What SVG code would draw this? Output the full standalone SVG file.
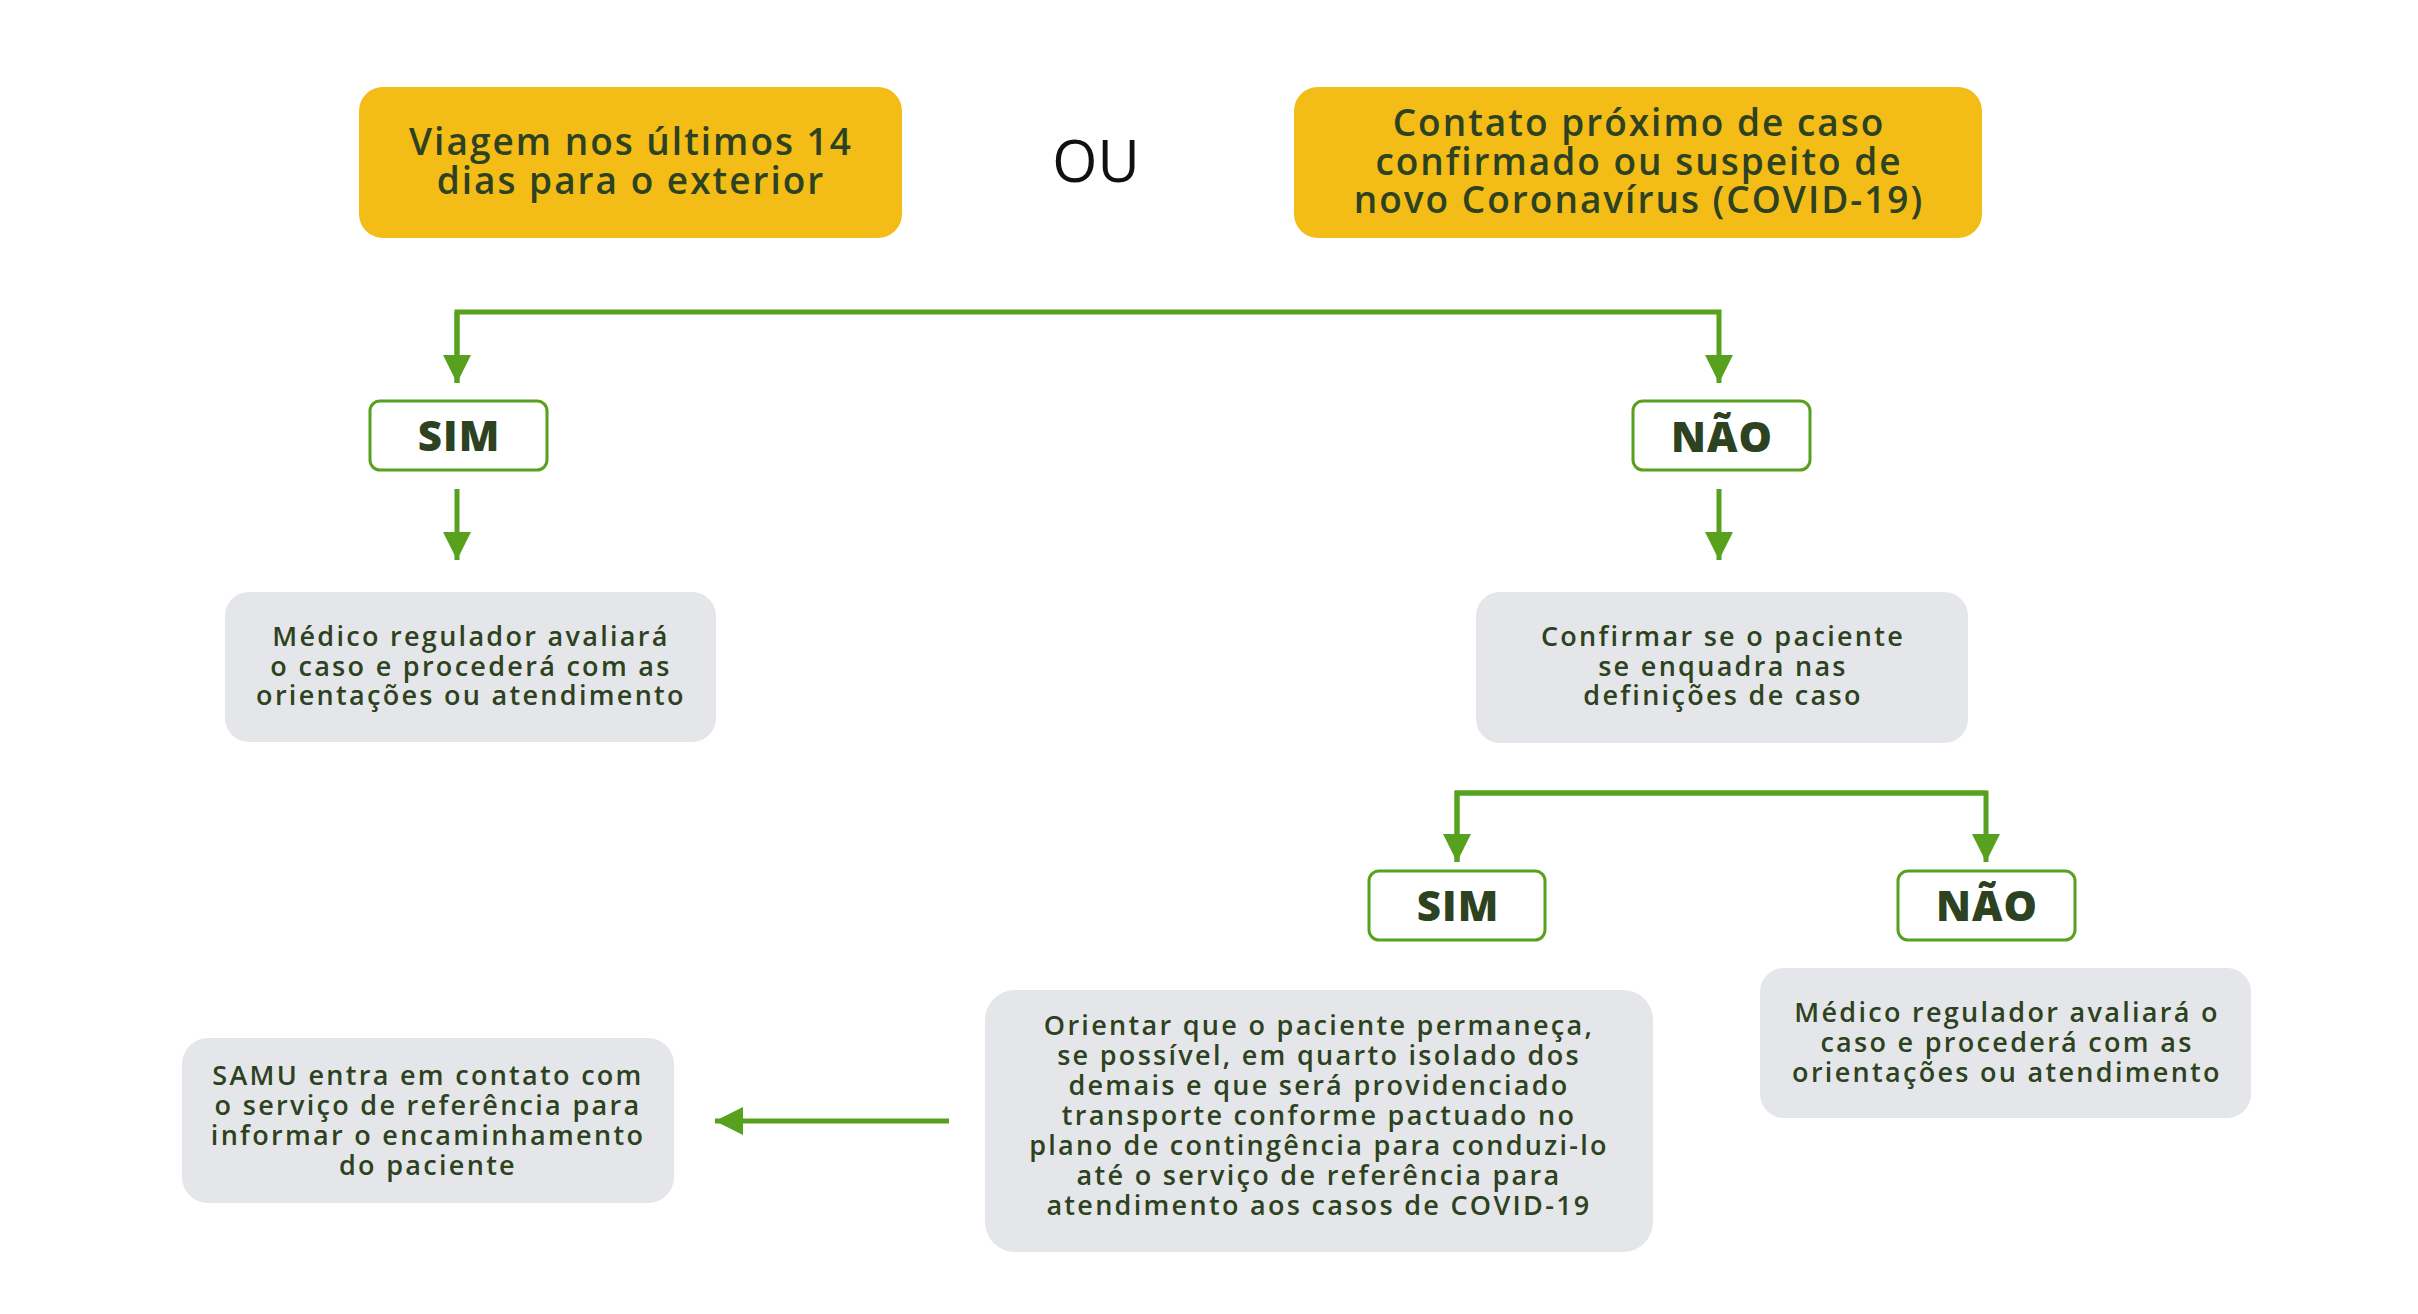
<svg xmlns="http://www.w3.org/2000/svg" width="2418" height="1314" viewBox="0 0 2418 1314">
<defs>
<marker id="ah" viewBox="0 0 28 28" refX="28" refY="14" markerWidth="28" markerHeight="28" markerUnits="userSpaceOnUse" orient="auto">
<path d="M0,0 L28,14 L0,28 Z" fill="#57a11f"/>
</marker>
<style>
.y{fill:#f3bc16}
.g{fill:#e5e6e9}
.d{fill:#fff;stroke:#57a11f;stroke-width:3}
.t{font-family:"Open Sans","Liberation Sans",sans-serif;fill:#2d4220;text-anchor:middle}
.ty{font-size:37px;font-weight:600;letter-spacing:2px}
.tg{font-size:27px;font-weight:600;letter-spacing:2.3px}
.tb{font-size:42px;font-weight:800;letter-spacing:1px}
.c{fill:none;stroke:#57a11f;stroke-width:5}
</style>
</defs>
<rect width="2418" height="1314" fill="#fff"/>
<g id="connectors">
<path class="c" d="M457,383 V312 H1719 V383" marker-end="url(#ah)"/>
<path class="c" d="M457,312 V383" marker-end="url(#ah)"/>
<path class="c" d="M457,489 V560" marker-end="url(#ah)"/>
<path class="c" d="M1719,489 V560" marker-end="url(#ah)"/>
<path class="c" d="M1457,862 V793 H1986 V862" marker-end="url(#ah)"/>
<path class="c" d="M1986,793 H1457 V862" marker-end="url(#ah)"/>
<path class="c" d="M949,1121 H715" marker-end="url(#ah)"/>
</g>
<g id="n-viagem">
<rect class="y" x="359" y="87" width="543" height="151" rx="24"/>
<text class="t ty" x="631" y="155">Viagem nos últimos 14</text>
<text class="t ty" x="631" y="194">dias para o exterior</text>
</g>
<g id="n-ou">
<text x="1096" y="182" font-family="'Open Sans','Liberation Sans',sans-serif" font-size="58" font-weight="500" fill="#111" text-anchor="middle">OU</text>
</g>
<g id="n-contato">
<rect class="y" x="1294" y="87" width="688" height="151" rx="24"/>
<text class="t ty" x="1639" y="136">Contato próximo de caso</text>
<text class="t ty" x="1639" y="175">confirmado ou suspeito de</text>
<text class="t ty" x="1639" y="213">novo Coronavírus (COVID-19)</text>
</g>
<g id="n-sim1">
<rect class="d" x="370" y="401" width="177" height="69" rx="10"/>
<text class="t tb" x="459" y="451">SIM</text>
</g>
<g id="n-nao1">
<rect class="d" x="1633" y="401" width="177" height="69" rx="10"/>
<text class="t tb" x="1722" y="452">NÃO</text>
</g>
<g id="n-medico1">
<rect class="g" x="225" y="592" width="491" height="150" rx="24"/>
<text class="t tg" x="471" y="646">Médico regulador avaliará</text>
<text class="t tg" x="471" y="676">o caso e procederá com as</text>
<text class="t tg" x="471" y="705">orientações ou atendimento</text>
</g>
<g id="n-confirmar">
<rect class="g" x="1476" y="592" width="492" height="151" rx="24"/>
<text class="t tg" x="1723" y="646">Confirmar se o paciente</text>
<text class="t tg" x="1723" y="676">se enquadra nas</text>
<text class="t tg" x="1723" y="705">definições de caso</text>
</g>
<g id="n-sim2">
<rect class="d" x="1369" y="871" width="176" height="69" rx="10"/>
<text class="t tb" x="1458" y="921">SIM</text>
</g>
<g id="n-nao2">
<rect class="d" x="1898" y="871" width="177" height="69" rx="10"/>
<text class="t tb" x="1987" y="921">NÃO</text>
</g>
<g id="n-medico2">
<rect class="g" x="1760" y="968" width="491" height="150" rx="24"/>
<text class="t tg" x="2007" y="1022">Médico regulador avaliará o</text>
<text class="t tg" x="2007" y="1052">caso e procederá com as</text>
<text class="t tg" x="2007" y="1082">orientações ou atendimento</text>
</g>
<g id="n-orientar">
<rect class="g" x="985" y="990" width="668" height="262" rx="30"/>
<text class="t tg" x="1319" y="1035">Orientar que o paciente permaneça,</text>
<text class="t tg" x="1319" y="1065">se possível, em quarto isolado dos</text>
<text class="t tg" x="1319" y="1095">demais e que será providenciado</text>
<text class="t tg" x="1319" y="1125">transporte conforme pactuado no</text>
<text class="t tg" x="1319" y="1155">plano de contingência para conduzi-lo</text>
<text class="t tg" x="1319" y="1185">até o serviço de referência para</text>
<text class="t tg" x="1319" y="1215">atendimento aos casos de COVID-19</text>
</g>
<g id="n-samu">
<rect class="g" x="182" y="1038" width="492" height="165" rx="26"/>
<text class="t tg" x="428" y="1085">SAMU entra em contato com</text>
<text class="t tg" x="428" y="1115">o serviço de referência para</text>
<text class="t tg" x="428" y="1145">informar o encaminhamento</text>
<text class="t tg" x="428" y="1175">do paciente</text>
</g>
</svg>
